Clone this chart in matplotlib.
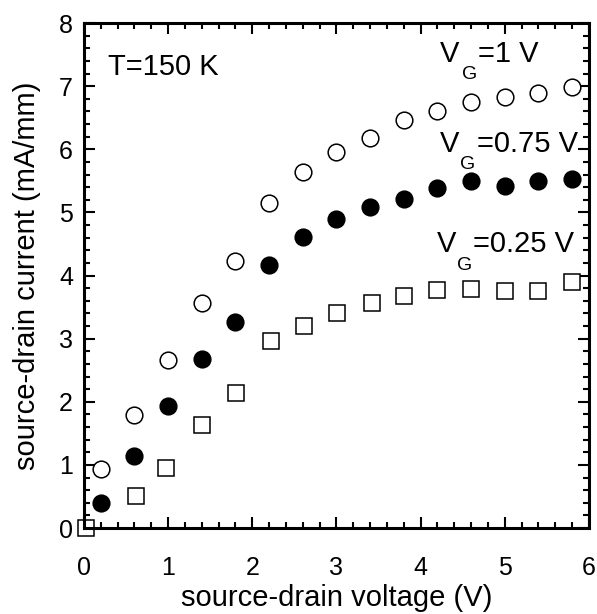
# -*- coding: utf-8 -*-
import matplotlib
matplotlib.use('Agg')
from matplotlib import pyplot as plt
from matplotlib.ticker import MultipleLocator

# Data
vsd = [0.2, 0.6, 1.0, 1.4, 1.8, 2.2, 2.6, 3.0, 3.4, 3.8, 4.2, 4.6, 5.0, 5.4, 5.8]
ids_vg_1 = [0.93, 1.79, 2.66, 3.57, 4.23, 5.15, 5.64, 5.96, 6.18, 6.47, 6.61, 6.75, 6.83, 6.89, 6.98]
ids_vg_075 = [0.39, 1.14, 1.93, 2.67, 3.27, 4.17, 4.61, 4.90, 5.08, 5.22, 5.38, 5.50, 5.42, 5.50, 5.53]
vsd_025 = [0.02, 0.62, 0.97, 1.4, 1.81, 2.22, 2.61, 3.01, 3.42, 3.8, 4.2, 4.6, 5.0, 5.4, 5.8]
ids_vg_025 = [0.0, 0.51, 0.95, 1.63, 2.14, 2.97, 3.20, 3.41, 3.56, 3.68, 3.77, 3.79, 3.76, 3.76, 3.89]

x_ticks = [0, 1, 2, 3, 4, 5, 6]
y_ticks = [0, 1, 2, 3, 4, 5, 6, 7, 8]

plt.rcParams['font.family'] = ['Liberation Sans', 'DejaVu Sans']

fig = plt.figure(figsize=(5.97, 6.14), dpi=100)
ax = fig.add_axes([0.1407, 0.140, 0.8459, 0.8225])

mk = dict(linestyle='none', clip_on=False, markeredgecolor='black', markeredgewidth=1.1)
ax.plot(vsd, ids_vg_1, marker='o', markersize=12, markerfacecolor='white', **mk)
ax.plot(vsd, ids_vg_075, marker='o', markersize=12, markerfacecolor='black', **mk)
ax.plot(vsd_025, ids_vg_025, marker='s', markersize=11, markerfacecolor='white', **mk)

ax.set_xlim(0, 6)
ax.set_ylim(0, 8)
ax.set_xticks(x_ticks)
ax.set_yticks(y_ticks)
ax.xaxis.set_minor_locator(MultipleLocator(0.2))
ax.yaxis.set_minor_locator(MultipleLocator(0.2))
ax.tick_params(which='both', direction='in', top=True, right=True, width=1.5, labelsize=18)
ax.tick_params(which='major', length=8)
ax.tick_params(which='minor', length=4.5)
ax.tick_params(axis='x', which='major', pad=20)
ax.tick_params(axis='y', which='major', pad=8)
for s in ax.spines.values():
    s.set_linewidth(2.2)

ax.set_xlabel('source-drain voltage (V)', fontsize=21, labelpad=3)
ax.set_ylabel('source-drain current (mA/mm)', fontsize=21, labelpad=13)

ax.text(0.285, 7.18, 'T=150 K', fontsize=21, va='baseline')

# V_G labels: big V, small lowered G, then the rest
labels = [('=1 V', 4.23, 7.38, 4.49, 7.12, 4.68),
          ('=0.75 V', 4.23, 5.96, 4.47, 5.69, 4.67),
          ('=0.25 V', 4.19, 4.37, 4.43, 4.09, 4.62)]
for rest, vx, vy, gx, gy, rx in labels:
    ax.text(vx, vy, 'V', fontsize=21, va='baseline')
    ax.text(gx, gy, 'G', fontsize=14, va='baseline')
    ax.text(rx, vy, rest, fontsize=21, va='baseline')

fig.savefig('out.png', dpi=100)
plt.close('all')
